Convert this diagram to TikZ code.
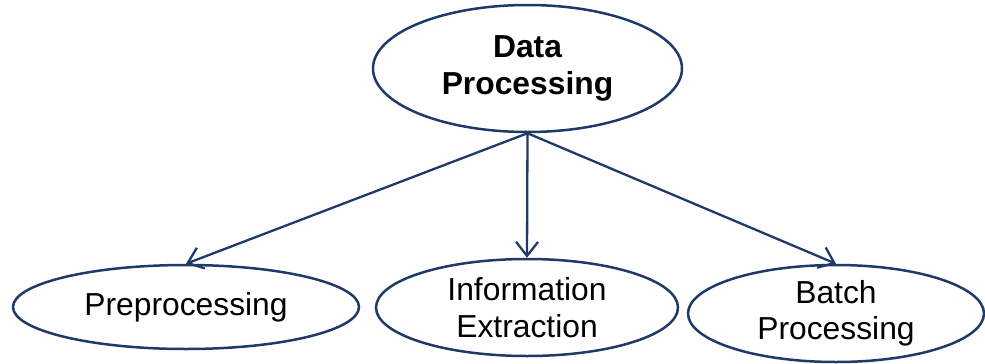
\documentclass[tikz,border=0pt]{standalone}
\usepackage{fontspec}
\setmainfont{Liberation Sans}
\usetikzlibrary{shapes.geometric,arrows.meta}
\definecolor{navy}{RGB}{31,58,104}
\tikzset{
  oval/.style={ellipse, draw=navy, line width=2.5pt, inner sep=0pt, align=center,
    font=\fontsize{31.8}{36.5}\selectfont},
  arr/.style={draw=navy, line width=2.3pt, -{Straight Barb[length=14pt,width=22pt,line width=2.3pt]}}
}
\begin{document}
\begin{tikzpicture}[x=1pt,y=-1pt]
  \useasboundingbox (0,0) rectangle (985,364);
  \node[oval, minimum width=309pt, minimum height=127pt, font=\fontsize{31.8}{37}\selectfont\bfseries]
    (top) at (527.5,68.5) {Data\\Processing};
  \node[oval, minimum width=346pt, minimum height=84pt] (pre) at (186,307) {Preprocessing};
  \node[oval, minimum width=302pt, minimum height=97pt] (inf) at (527,307.5) {Information\\Extraction};
  \node[oval, minimum width=296pt, minimum height=97pt] (bat) at (836,313.5) {Batch\\Processing};
  \draw[arr] (top.south) -- (pre.north);
  \draw[arr] (top.south) -- (inf.north);
  \draw[arr] (top.south) -- (bat.north);
\end{tikzpicture}
\end{document}
